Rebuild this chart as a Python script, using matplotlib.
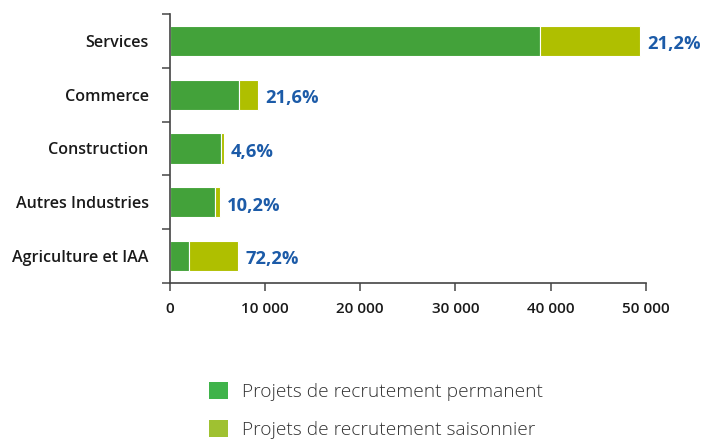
import matplotlib
matplotlib.use("Agg")
from matplotlib import pyplot as plt
from matplotlib.patches import Patch
import numpy as np

secteurs = ["Services", "Commerce", "Construction", "Autres Industries", "Agriculture et IAA"]
permanent = [38900, 7300, 5430, 4730, 2000]
saisonnier = [10500, 2000, 260, 540, 5200]
partSaison = ["21,2%", "21,6%", "4,6%", "10,2%", "72,2%"]
xTicks = [0, 10000, 20000, 30000, 40000, 50000]
xLabels = ["0", "10 000", "20 000", "30 000", "40 000", "50 000"]

vert = "#43a23a"
lime = "#afbf00"
bleu = "#1c5ba8"
txt = "#1a1a1a"

plt.rcParams['font.family'] = ['Open Sans', 'DejaVu Sans']

fig = plt.figure(figsize=(7.01, 4.41), dpi=100)
ax = fig.add_axes([0.2418, 0.3583, 0.6797, 0.61])

y = np.arange(len(secteurs))[::-1]
ax.barh(y, permanent, height=0.56, color=vert, edgecolor="white", linewidth=0.8)
ax.barh(y, saisonnier, left=permanent, height=0.56, color=lime, edgecolor="white", linewidth=0.8)

for k in range(len(secteurs)):
    total = permanent[k] + saisonnier[k]
    ax.text(total + 750, y[k] - 0.06, partSaison[k], color=bleu, fontsize=13.2,
            fontweight="bold", va="center", ha="left")

ax.set_xlim(0, 50000)
ax.set_ylim(-0.5, 4.5)
ax.set_xticks(xTicks)
ax.set_xticklabels(xLabels, fontsize=11, fontweight="semibold", color=txt)
ax.set_yticks(y)
ax.set_yticklabels(secteurs, fontsize=11.6, fontweight="semibold", color=txt)
ax.set_yticks(np.arange(-0.5, 5, 1), minor=True)
ax.tick_params(axis="y", which="major", length=0, pad=15)
ax.tick_params(axis="y", which="minor", length=6, width=1.2, color="#555555")
ax.tick_params(axis="x", length=6, width=1.2, color="#555555", pad=8)

for s in ["top", "right"]:
    ax.spines[s].set_visible(False)
for s in ["left", "bottom"]:
    ax.spines[s].set_color("#444444")
    ax.spines[s].set_linewidth(1.2)

handles = [Patch(facecolor="#3fb34a", edgecolor="none"),
           Patch(facecolor="#9fc131", edgecolor="none")]
fig.legend(handles, ["Projets de recrutement permanent", "Projets de recrutement saisonnier"],
           loc="upper left", bbox_to_anchor=(0.287, 0.152), frameon=False,
           prop={"size": 13.8, "weight": "light"}, labelcolor="#333333",
           handlelength=1.0, handleheight=1.0, handletextpad=0.75, labelspacing=0.98,
           borderaxespad=0)

fig.savefig("out.png", dpi=100)
